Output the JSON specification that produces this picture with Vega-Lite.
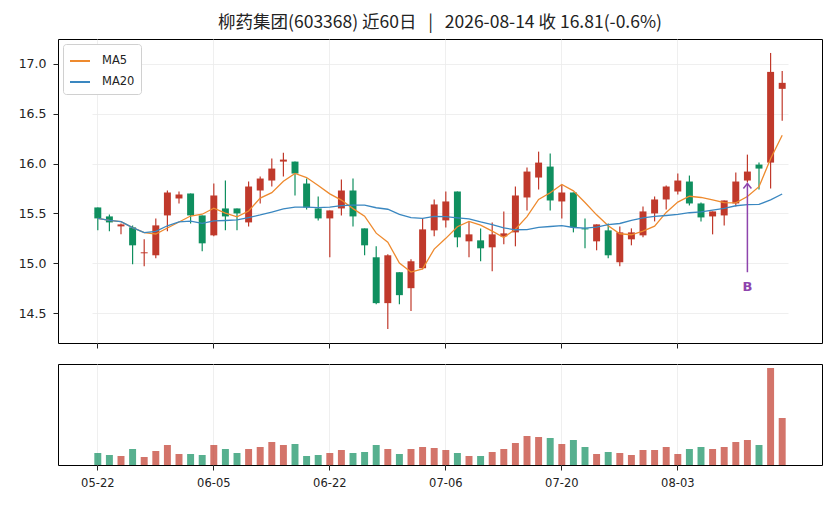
{
  "$schema": "https://vega.github.io/schema/vega-lite/v6.json",
  "background": "white",
  "padding": {"left": 17, "top": 13, "right": 15, "bottom": 8},
  "config": {
    "font": "DejaVu Sans",
    "view": {"stroke": "black", "strokeWidth": 1},
    "axis": {"labelFont": "DejaVu Sans", "labelColor": "#222", "tickColor": "#222", "gridColor": "#ebebeb", "gridWidth": 0.8, "domain": false, "title": null}
  },
  "data": {"values": [
    {"d": "05-22", "o": 15.56, "h": 15.56, "l": 15.33, "c": 15.45, "v": 12, "ma5": 15.45, "ma20": 15.45},
    {"d": "05-25", "o": 15.47, "h": 15.49, "l": 15.32, "c": 15.41, "v": 10, "ma5": 15.43, "ma20": 15.43},
    {"d": "05-26", "o": 15.37, "h": 15.40, "l": 15.29, "c": 15.39, "v": 9, "ma5": 15.417, "ma20": 15.417},
    {"d": "05-27", "o": 15.36, "h": 15.38, "l": 14.99, "c": 15.18, "v": 16, "ma5": 15.358, "ma20": 15.358},
    {"d": "05-28", "o": 15.10, "h": 15.24, "l": 14.97, "c": 15.11, "v": 8, "ma5": 15.308, "ma20": 15.308},
    {"d": "05-29", "o": 15.08, "h": 15.45, "l": 15.05, "c": 15.38, "v": 14, "ma5": 15.294, "ma20": 15.32},
    {"d": "06-01", "o": 15.48, "h": 15.73, "l": 15.32, "c": 15.71, "v": 20, "ma5": 15.354, "ma20": 15.376},
    {"d": "06-02", "o": 15.65, "h": 15.72, "l": 15.60, "c": 15.69, "v": 11, "ma5": 15.414, "ma20": 15.415},
    {"d": "06-03", "o": 15.70, "h": 15.70, "l": 15.40, "c": 15.48, "v": 11, "ma5": 15.474, "ma20": 15.422},
    {"d": "06-04", "o": 15.48, "h": 15.48, "l": 15.12, "c": 15.20, "v": 10, "ma5": 15.492, "ma20": 15.40},
    {"d": "06-05", "o": 15.28, "h": 15.80, "l": 15.27, "c": 15.68, "v": 20, "ma5": 15.552, "ma20": 15.425},
    {"d": "06-08", "o": 15.55, "h": 15.83, "l": 15.33, "c": 15.47, "v": 16, "ma5": 15.504, "ma20": 15.429},
    {"d": "06-09", "o": 15.55, "h": 15.55, "l": 15.33, "c": 15.50, "v": 12, "ma5": 15.466, "ma20": 15.435},
    {"d": "06-10", "o": 15.41, "h": 15.82, "l": 15.37, "c": 15.77, "v": 16, "ma5": 15.524, "ma20": 15.459},
    {"d": "06-11", "o": 15.73, "h": 15.87, "l": 15.60, "c": 15.85, "v": 18, "ma5": 15.654, "ma20": 15.485},
    {"d": "06-12", "o": 15.83, "h": 16.05, "l": 15.77, "c": 15.95, "v": 23, "ma5": 15.708, "ma20": 15.514},
    {"d": "06-15", "o": 16.02, "h": 16.11, "l": 15.87, "c": 16.04, "v": 20, "ma5": 15.822, "ma20": 15.545},
    {"d": "06-16", "o": 16.02, "h": 16.02, "l": 15.68, "c": 15.90, "v": 21, "ma5": 15.902, "ma20": 15.564},
    {"d": "06-17", "o": 15.80, "h": 15.85, "l": 15.54, "c": 15.56, "v": 9, "ma5": 15.86, "ma20": 15.564},
    {"d": "06-18", "o": 15.55, "h": 15.67, "l": 15.43, "c": 15.45, "v": 10, "ma5": 15.78, "ma20": 15.559},
    {"d": "06-22", "o": 15.45, "h": 15.53, "l": 15.06, "c": 15.53, "v": 12, "ma5": 15.696, "ma20": 15.563},
    {"d": "06-23", "o": 15.55, "h": 15.84, "l": 15.48, "c": 15.73, "v": 15, "ma5": 15.634, "ma20": 15.579},
    {"d": "06-24", "o": 15.73, "h": 15.85, "l": 15.37, "c": 15.47, "v": 12, "ma5": 15.548, "ma20": 15.583},
    {"d": "06-25", "o": 15.35, "h": 15.35, "l": 15.08, "c": 15.18, "v": 13, "ma5": 15.472, "ma20": 15.583},
    {"d": "06-26", "o": 15.06, "h": 15.17, "l": 14.59, "c": 14.60, "v": 20, "ma5": 15.302, "ma20": 15.557},
    {"d": "06-29", "o": 14.60, "h": 15.09, "l": 14.34, "c": 15.08, "v": 16, "ma5": 15.212, "ma20": 15.542},
    {"d": "06-30", "o": 14.91, "h": 14.91, "l": 14.59, "c": 14.68, "v": 11, "ma5": 15.002, "ma20": 15.49},
    {"d": "07-01", "o": 14.75, "h": 15.04, "l": 14.52, "c": 15.02, "v": 16, "ma5": 14.912, "ma20": 15.457},
    {"d": "07-02", "o": 14.95, "h": 15.45, "l": 14.94, "c": 15.34, "v": 18, "ma5": 14.944, "ma20": 15.45},
    {"d": "07-03", "o": 15.33, "h": 15.64, "l": 15.27, "c": 15.59, "v": 17, "ma5": 15.142, "ma20": 15.47},
    {"d": "07-06", "o": 15.43, "h": 15.72, "l": 15.36, "c": 15.62, "v": 15, "ma5": 15.25, "ma20": 15.467},
    {"d": "07-07", "o": 15.72, "h": 15.72, "l": 15.16, "c": 15.26, "v": 12, "ma5": 15.366, "ma20": 15.456},
    {"d": "07-08", "o": 15.22, "h": 15.42, "l": 15.06, "c": 15.29, "v": 9, "ma5": 15.42, "ma20": 15.446},
    {"d": "07-09", "o": 15.23, "h": 15.35, "l": 15.02, "c": 15.15, "v": 9, "ma5": 15.382, "ma20": 15.415},
    {"d": "07-10", "o": 15.16, "h": 15.41, "l": 14.92, "c": 15.29, "v": 13, "ma5": 15.322, "ma20": 15.387},
    {"d": "07-13", "o": 15.27, "h": 15.52, "l": 15.19, "c": 15.30, "v": 16, "ma5": 15.258, "ma20": 15.354},
    {"d": "07-14", "o": 15.31, "h": 15.77, "l": 15.17, "c": 15.68, "v": 22, "ma5": 15.342, "ma20": 15.336},
    {"d": "07-15", "o": 15.66, "h": 15.96, "l": 15.53, "c": 15.92, "v": 29, "ma5": 15.468, "ma20": 15.337},
    {"d": "07-16", "o": 15.86, "h": 16.12, "l": 15.74, "c": 16.01, "v": 28, "ma5": 15.64, "ma20": 15.36},
    {"d": "07-17", "o": 15.97, "h": 16.10, "l": 15.53, "c": 15.63, "v": 27, "ma5": 15.708, "ma20": 15.369},
    {"d": "07-20", "o": 15.62, "h": 15.79, "l": 15.45, "c": 15.71, "v": 21, "ma5": 15.79, "ma20": 15.378},
    {"d": "07-21", "o": 15.71, "h": 15.71, "l": 15.31, "c": 15.36, "v": 25, "ma5": 15.726, "ma20": 15.359},
    {"d": "07-22", "o": 15.35, "h": 15.45, "l": 15.15, "c": 15.34, "v": 18, "ma5": 15.61, "ma20": 15.353},
    {"d": "07-23", "o": 15.22, "h": 15.39, "l": 15.13, "c": 15.39, "v": 11, "ma5": 15.486, "ma20": 15.363},
    {"d": "07-24", "o": 15.33, "h": 15.40, "l": 15.05, "c": 15.08, "v": 13, "ma5": 15.376, "ma20": 15.387},
    {"d": "07-27", "o": 15.01, "h": 15.37, "l": 14.97, "c": 15.31, "v": 12, "ma5": 15.296, "ma20": 15.399},
    {"d": "07-28", "o": 15.24, "h": 15.35, "l": 15.18, "c": 15.31, "v": 10, "ma5": 15.286, "ma20": 15.43},
    {"d": "07-29", "o": 15.28, "h": 15.57, "l": 15.26, "c": 15.52, "v": 15, "ma5": 15.322, "ma20": 15.455},
    {"d": "07-30", "o": 15.50, "h": 15.67, "l": 15.42, "c": 15.64, "v": 15, "ma5": 15.372, "ma20": 15.47},
    {"d": "07-31", "o": 15.64, "h": 15.78, "l": 15.54, "c": 15.77, "v": 18, "ma5": 15.51, "ma20": 15.479},
    {"d": "08-03", "o": 15.72, "h": 15.90, "l": 15.69, "c": 15.83, "v": 11, "ma5": 15.614, "ma20": 15.49},
    {"d": "08-04", "o": 15.82, "h": 15.88, "l": 15.58, "c": 15.60, "v": 16, "ma5": 15.672, "ma20": 15.507},
    {"d": "08-05", "o": 15.60, "h": 15.61, "l": 15.42, "c": 15.46, "v": 18, "ma5": 15.66, "ma20": 15.515},
    {"d": "08-06", "o": 15.47, "h": 15.52, "l": 15.29, "c": 15.52, "v": 16, "ma5": 15.636, "ma20": 15.534},
    {"d": "08-07", "o": 15.48, "h": 15.63, "l": 15.38, "c": 15.63, "v": 18, "ma5": 15.608, "ma20": 15.551},
    {"d": "08-10", "o": 15.60, "h": 15.91, "l": 15.57, "c": 15.82, "v": 23, "ma5": 15.606, "ma20": 15.577},
    {"d": "08-11", "o": 15.83, "h": 16.09, "l": 15.81, "c": 15.92, "v": 25, "ma5": 15.67, "ma20": 15.589},
    {"d": "08-12", "o": 15.99, "h": 16.01, "l": 15.74, "c": 15.95, "v": 20, "ma5": 15.768, "ma20": 15.59},
    {"d": "08-13", "o": 16.01, "h": 17.11, "l": 15.75, "c": 16.92, "v": 97, "ma5": 16.048, "ma20": 15.636},
    {"d": "08-14", "o": 16.75, "h": 16.93, "l": 16.43, "c": 16.81, "v": 47, "ma5": 16.284, "ma20": 15.695}
  ]},
  "spacing": 14,
  "vconcat": [
    {
      "width": 764,
      "height": 304,
      "title": {"text": "柳药集团(603368) 近60日\u00a0\u00a0\u00a0|\u00a0\u00a0\u00a02026-08-14 收 16.81(-0.6%)", "font": "Noto Sans CJK SC", "fontSize": 17.5, "fontWeight": "normal", "color": "#222", "anchor": "middle", "frame": "group", "offset": 8},
      "layer": [
        {
          "mark": {"type": "rule", "strokeWidth": 1.2},
          "encoding": {
            "x": {"field": "d", "type": "ordinal", "sort": null,
              "scale": {"type": "band", "paddingInner": 0, "paddingOuter": 0, "range": [34, 730]},
              "axis": {"values": ["05-22", "06-05", "06-22", "07-06", "07-20", "08-03"], "labels": false, "ticks": true, "tickSize": 5, "grid": true, "bandPosition": 0.5}},
            "y": {"field": "l", "type": "quantitative",
              "scale": {"domain": [14.2, 17.25], "nice": false, "zero": false},
              "axis": {"values": [14.5, 15.0, 15.5, 16.0, 16.5, 17.0], "format": ".1f", "labelFontSize": 12.5, "tickSize": 5, "labelPadding": 7, "grid": true}},
            "y2": {"field": "h"},
            "color": {"condition": {"test": "datum.c >= datum.o", "value": "#c0392b"}, "value": "#0f8f5f"}
          }
        },
        {
          "mark": {"type": "bar", "width": {"band": 0.6}},
          "encoding": {
            "x": {"field": "d", "type": "ordinal", "sort": null},
            "y": {"field": "o", "type": "quantitative"},
            "y2": {"field": "c"},
            "color": {"condition": {"test": "datum.c >= datum.o", "value": "#c0392b"}, "value": "#0f8f5f"}
          }
        },
        {
          "mark": {"type": "line", "strokeWidth": 1.3},
          "encoding": {
            "x": {"field": "d", "type": "ordinal", "sort": null},
            "y": {"field": "ma5", "type": "quantitative"},
            "color": {"datum": "MA5", "type": "nominal",
              "scale": {"domain": ["MA5", "MA20"], "range": ["#ee8a2e", "#3a87c0"]},
              "legend": {"title": null, "orient": "top-left", "offset": 5, "padding": 6, "strokeColor": "#d0d0d0", "fillColor": "white", "cornerRadius": 3, "symbolType": "stroke", "symbolStrokeWidth": 2, "symbolSize": 400, "labelFontSize": 11.5, "labelOffset": 11, "labelFont": "DejaVu Sans", "labelColor": "#222", "rowPadding": 4}}
          }
        },
        {
          "mark": {"type": "line", "strokeWidth": 1.3},
          "encoding": {
            "x": {"field": "d", "type": "ordinal", "sort": null},
            "y": {"field": "ma20", "type": "quantitative"},
            "color": {"datum": "MA20", "type": "nominal"}
          }
        },
        {
          "data": {"values": [{"d": "08-11", "from": 14.91, "to": 15.80, "label": "B", "ty": 14.76}]},
          "layer": [
            {
              "mark": {"type": "rule", "color": "#8e44ad", "strokeWidth": 1.5},
              "encoding": {"x": {"field": "d", "type": "ordinal"}, "y": {"field": "from", "type": "quantitative"}, "y2": {"field": "to"}}
            },
            {
              "mark": {"type": "point", "shape": "M-0.8,1L0,0L0.8,1", "filled": false, "color": "#8e44ad", "strokeWidth": 1.5, "size": 100, "opacity": 1},
              "encoding": {"x": {"field": "d", "type": "ordinal"}, "y": {"field": "to", "type": "quantitative"}}
            },
            {
              "mark": {"type": "text", "color": "#8e44ad", "fontSize": 13, "fontWeight": "bold", "font": "DejaVu Sans"},
              "encoding": {"x": {"field": "d", "type": "ordinal"}, "y": {"field": "ty", "type": "quantitative"}, "text": {"field": "label"}}
            }
          ]
        }
      ]
    },
    {
      "width": 764,
      "height": 101,
      "mark": {"type": "bar", "width": {"band": 0.6}, "opacity": 0.7},
      "encoding": {
        "x": {"field": "d", "type": "ordinal", "sort": null,
          "scale": {"type": "band", "paddingInner": 0, "paddingOuter": 0, "range": [34, 730]},
          "axis": {"values": ["05-22", "06-05", "06-22", "07-06", "07-20", "08-03"], "labelAngle": 0, "labelFontSize": 11.5, "tickSize": 5, "labelPadding": 7, "grid": true, "bandPosition": 0.5}},
        "y": {"field": "v", "type": "quantitative", "scale": {"domain": [0, 101], "nice": false}, "axis": null},
        "color": {"condition": {"test": "datum.c >= datum.o", "value": "#c0392b"}, "value": "#0f8f5f"}
      }
    }
  ]
}
